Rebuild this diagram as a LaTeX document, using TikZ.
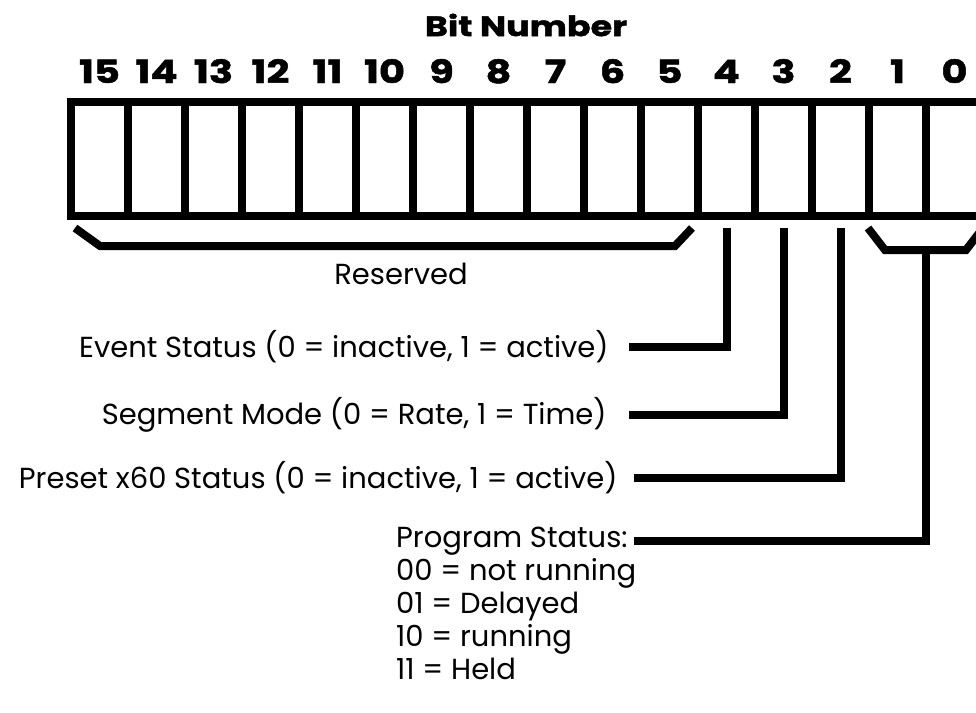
\documentclass[tikz,border=0pt]{standalone}
\usepackage{fontspec}
\setmainfont{Poppins}
\newfontfamily\headfont{Poppins}[FakeStretch=1.25,FakeBold=1.5]
\usetikzlibrary{calc}

\begin{document}
\begin{tikzpicture}[x=0.5pt,y=-0.5pt,
  font=\fontsize{14.5}{16.5}\selectfont,
  cell/.style={draw,line width=4pt,minimum width=28.5pt,minimum height=57pt,
               inner sep=0pt,outer sep=0pt},
  bitnum/.style={font=\headfont\bfseries\fontsize{16}{16}\selectfont,anchor=base},
  lbl/.style={inner sep=0pt,anchor=east},
  lead/.style={line width=4pt,line join=miter,line cap=butt}]
  \useasboundingbox (0,0) rectangle (976,713);
  \node[font=\headfont\bfseries\fontsize{14}{14}\selectfont] (title) at (526,25) {Bit Number};
  % register cells and bit numbers
  \foreach \b in {0,...,15}{
    \node[cell] (bit\b) at ({99.5+57*(15-\b)},159) {};
    \node[bitnum] (num\b) at ({99.5+57*(15-\b)},83) {\b};
  }
  % reserved bits 15..5
  \draw[lead] ($(bit15.south west)+(4,12)$) -- ($(bit15.south west)+(29,30)$)
       -- ($(bit5.south east)+(-23,30)$) -- ($(bit5.south east)+(-6,12)$);
  \node (rsv) at (401,274) {Reserved};
  % bits 1..0
  \draw[lead] ($(bit1.south west)+(-1,12)$) -- ($(bit1.south west)+(16,34)$)
       -- ($(bit0.south east)+(-17,34)$) -- ($(bit0.south east)+(0,12)$);
  \coordinate (pmid) at ($(bit1.south east)+(0,34)$);
  % labels
  \node[lbl] (evt) at (609,347) {Event Status (0 = inactive, 1 = active)};
  \draw[lead] ([xshift=10pt]evt.east) -| ($(bit4.south)+(0,12)$);
  \node[lbl] (seg) at (607,415) {Segment Mode (0 = Rate, 1 = Time)};
  \draw[lead] ([xshift=11pt]seg.east) -| ($(bit3.south)+(0,12)$);
  \node[lbl] (pre) at (618,478) {Preset x60 Status (0 = inactive, 1 = active)};
  \draw[lead] ([xshift=8pt]pre.east) -| ($(bit2.south)+(0,12)$);
  \node[lbl] (prog) at (628,541) {Program Status:};
  \draw[lead] (pmid) |- ([xshift=3pt]prog.east);
  \foreach \c/\t [count=\i] in {00/not running,01/Delayed,10/running,11/Held}
    \node[anchor=base west,inner sep=0pt] (code\i) at ($(prog.base west)+(0,{33*\i})$) {\c{} = \t};
\end{tikzpicture}
\end{document}
